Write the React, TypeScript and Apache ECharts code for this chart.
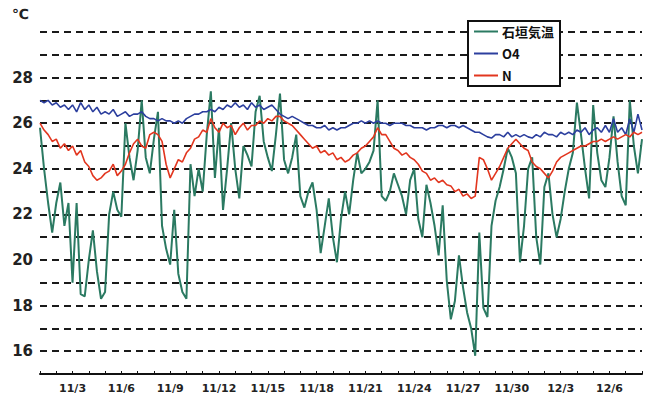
import React, { useEffect, useRef } from "react";
import * as echarts from "echarts";

// Sampling: one reading every 6 hours, starting 11/1 00:00 (x axis in days from 11/1)
const hoursStep = 6;

const seriesNames = ["石垣気温", "O4", "N"];

// 石垣気温 (Ishigaki air temperature)
const ishigaki = [
  25.8, 24.0, 22.5, 21.2,
  22.5, 23.4, 21.5, 22.5,
  19.0, 22.5, 18.5, 18.4,
  20.0, 21.3, 19.5, 18.3,
  18.6, 22.0, 23.0, 22.2,
  21.9, 26.0, 24.5, 23.5,
  24.8, 27.0, 24.5, 23.8,
  25.3, 26.5, 21.5, 20.5,
  19.8, 22.2, 19.4, 18.6,
  18.3, 24.2, 22.8, 24.0,
  23.0, 25.5, 27.4, 23.6,
  25.8, 22.2, 24.0, 26.0,
  24.0, 22.7, 25.0, 24.6,
  24.1, 26.5, 27.2, 25.2,
  24.5, 23.9, 25.5, 27.3,
  24.4, 23.8, 24.5, 25.5,
  22.8, 22.3, 23.0, 23.4,
  22.2, 20.3, 21.5, 22.7,
  21.0, 19.9, 21.8, 23.0,
  22.0, 23.5, 24.7, 23.8,
  24.0, 24.3, 24.8, 27.0,
  22.8, 22.6, 23.0, 23.8,
  23.3, 22.8, 22.0, 23.5,
  24.0, 21.8, 21.0, 23.3,
  22.5, 21.5, 20.2, 22.4,
  19.1, 17.4, 18.2, 20.2,
  18.8, 17.7, 17.0, 15.8,
  21.2, 17.9, 17.5, 21.5,
  22.6, 23.2, 24.0, 24.9,
  24.5, 23.8, 19.9, 21.5,
  24.0, 24.5, 21.0, 19.8,
  23.2, 23.8, 22.0, 21.0,
  21.8, 23.0, 24.0, 24.7,
  26.9, 25.5, 24.0, 22.7,
  26.8, 24.7, 23.5, 23.2,
  24.5, 26.3, 24.3, 22.8,
  22.4, 27.0, 25.0, 23.8,
  25.3,
];

// O4
const o4 = [
  27.0, 26.9, 27.0, 26.8,
  26.9, 26.7, 26.8, 26.6,
  26.8, 26.5, 26.9, 26.6,
  26.8, 26.5, 26.7, 26.4,
  26.5, 26.4, 26.6, 26.3,
  26.4, 26.5, 26.3, 26.4,
  26.4, 26.5, 26.3, 26.2,
  26.2, 26.1, 26.2, 26.1,
  26.1, 26.0, 26.1, 26.0,
  26.2, 26.3, 26.4, 26.4,
  26.5, 26.5, 26.6, 26.5,
  26.7, 26.6, 26.8, 26.7,
  26.9, 26.7, 26.8, 26.6,
  26.9, 26.7, 26.8, 26.6,
  26.7, 26.8, 26.6, 26.4,
  26.3, 26.2, 26.3, 26.2,
  26.1, 26.0, 25.9, 25.9,
  25.8, 25.8, 25.9, 25.7,
  25.8, 25.7, 25.8, 25.8,
  25.9, 26.0, 26.0, 26.1,
  26.0, 26.1, 26.0, 26.1,
  26.0, 26.0, 25.9, 26.0,
  26.0, 26.0, 25.9, 25.9,
  25.8, 25.8, 25.8, 25.7,
  25.8, 25.8, 25.9, 25.9,
  25.8, 25.9, 25.9, 25.8,
  25.9, 25.8, 25.7, 25.6,
  25.6, 25.5, 25.4, 25.35,
  25.5, 25.5, 25.4, 25.6,
  25.4, 25.5, 25.4, 25.5,
  25.4, 25.35, 25.5, 25.4,
  25.6, 25.5, 25.5, 25.4,
  25.6, 25.5, 25.6, 25.5,
  25.7, 25.6, 25.8, 25.5,
  25.7, 25.8, 25.6, 25.9,
  25.6, 26.2, 25.6, 25.8,
  25.5, 26.2, 25.6, 26.4,
  25.7,
];

// N
const nSeries = [
  26.0, 25.7, 25.5, 25.2,
  25.3, 24.9, 25.1, 24.8,
  25.0, 24.6, 24.8, 24.3,
  24.1, 23.7, 23.5, 23.6,
  23.8, 23.9, 24.2, 23.7,
  23.9, 24.2, 24.7, 25.1,
  25.3, 25.0, 24.9, 25.5,
  25.6, 25.5, 25.2, 24.2,
  23.6, 24.0, 24.4, 24.3,
  24.7, 24.9, 25.3, 25.4,
  25.7, 25.6, 26.2, 25.8,
  25.6, 26.0, 25.8, 25.9,
  25.5, 25.8, 26.0, 25.7,
  25.9, 25.9, 26.1, 26.0,
  26.2, 26.1, 26.3, 26.3,
  26.1, 26.0, 25.9, 25.7,
  25.5, 25.3, 25.1, 24.9,
  25.0, 24.7, 24.8, 24.6,
  24.7, 24.4, 24.5, 24.3,
  24.4, 24.6, 24.7, 24.9,
  25.0, 25.2, 25.4, 25.8,
  25.5, 25.5, 25.2, 24.9,
  24.8, 24.6, 24.7, 24.5,
  24.4, 24.2, 23.9, 23.8,
  23.5, 23.6, 23.4, 23.5,
  23.3, 23.25, 23.0, 23.1,
  22.8, 22.9, 22.7, 22.8,
  24.5, 24.4, 24.0, 23.5,
  23.8, 24.1, 24.5, 24.9,
  25.1, 25.3, 25.1, 24.9,
  24.8, 24.3, 24.1, 24.0,
  23.8, 23.6, 23.9, 24.3,
  24.5, 24.6, 24.7, 24.8,
  24.9, 25.0, 25.0, 25.1,
  25.2, 25.2, 25.3, 25.2,
  25.3, 25.4, 25.3, 25.4,
  25.5, 25.4, 25.6, 25.5,
  25.6,
];

// X tick labels (days counted from 11/1)
const xTickLabels = ["11/3", "11/6", "11/9", "11/12", "11/15", "11/18", "11/21", "11/24", "11/27", "11/30", "12/3", "12/6"];
const xTickDays = [2, 5, 8, 11, 14, 17, 20, 23, 26, 29, 32, 35];

// Y tick labels
const yTickLabels = [16, 18, 20, 22, 24, 26, 28];

const colors = ["#2b7a62", "#2c3f9e", "#e2361f"];

function toPairs(values: number[]) {
  return values.map((v, i) => [(i * hoursStep) / 24, v]);
}

export default function App() {
  const ref = useRef<HTMLDivElement>(null);

  useEffect(() => {
    if (!ref.current) return;
    const chart = echarts.init(ref.current, undefined, { renderer: "svg" });
    const dataSets = [ishigaki, o4, nSeries];
    chart.setOption({
      animation: false,
      backgroundColor: "#ffffff",
      grid: { left: 40, right: 11, top: 32, bottom: 28 },
      graphic: [
        {
          type: "text",
          left: 12,
          top: 7,
          style: { text: "℃", fontSize: 14, fontWeight: "bold", fill: "#222", fontFamily: "DejaVu Sans" },
        },
      ],
      legend: {
        data: seriesNames,
        orient: "vertical",
        left: 468,
        top: 21,
        padding: [4, 6, 4, 6],
        itemGap: 9,
        itemWidth: 24,
        itemHeight: 2,
        icon: "rect",
        backgroundColor: "#ffffff",
        borderColor: "#111",
        borderWidth: 2,
        borderRadius: 0,
        textStyle: { fontSize: 13, fontWeight: "bold", color: "#111", fontFamily: "Noto Sans CJK JP", padding: [0, 0, 0, -1] },
      },
      xAxis: {
        type: "value",
        min: 0,
        max: 37,
        interval: 1,
        axisLine: { show: true, lineStyle: { color: "#111", width: 2 } },
        axisTick: { show: true, inside: true, length: 3, lineStyle: { color: "#111", width: 1 } },
        splitLine: { show: false },
        axisLabel: {
          margin: 9,
          fontSize: 11,
          fontWeight: "bold",
          color: "#222",
          fontFamily: "DejaVu Sans",
          showMinLabel: true,
          showMaxLabel: true,
          formatter: (v: number) => {
            const r = Math.round(v);
            if (Math.abs(v - r) > 1e-6) return "";
            const i = xTickDays.indexOf(r);
            return i >= 0 ? xTickLabels[i] : "";
          },
        },
      },
      yAxis: {
        type: "value",
        min: 15,
        max: 30,
        interval: 1,
        axisLine: { show: false },
        axisTick: { show: false },
        splitLine: { show: true, lineStyle: { color: "#1a1a1a", width: 2, type: [7, 5] } },
        axisLabel: {
          margin: 7,
          fontSize: 15,
          fontWeight: "bold",
          color: "#222",
          fontFamily: "DejaVu Sans",
          formatter: (v: number) => (yTickLabels.indexOf(Math.round(v)) >= 0 ? String(Math.round(v)) : ""),
        },
      },
      series: seriesNames.map((name, i) => ({
        name,
        type: "line",
        data: toPairs(dataSets[i]),
        showSymbol: false,
        symbol: "none",
        color: colors[i],
        lineStyle: { color: colors[i], width: i === 0 ? 2 : 1.6 },
        z: i === 0 ? 2 : 3,
      })),
    });
    return () => chart.dispose();
  }, []);

  return (
    <div
      ref={ref}
      style={{ position: "fixed", left: 0, top: 0, width: 653, height: 402, background: "#fff" }}
    />
  );
}
